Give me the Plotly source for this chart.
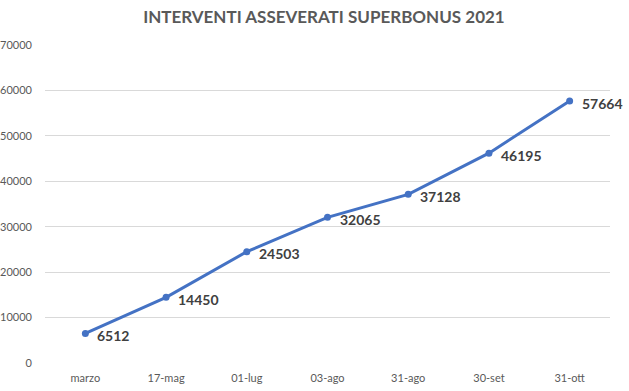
import plotly.graph_objects as go

categories = ["marzo", "17-mag", "01-lug", "03-ago", "31-ago", "30-set", "31-ott"]
values = [6512, 14450, 24503, 32065, 37128, 46195, 57664]
y_ticks = [0, 10000, 20000, 30000, 40000, 50000, 60000, 70000]

fig = go.Figure()
fig.add_trace(go.Scatter(
    x=categories, y=values,
    mode="lines+markers",
    line=dict(color="#4472C4", width=3),
    marker=dict(color="#4472C4", size=7),
    cliponaxis=False,
    hoverinfo="skip",
))

for c, v in zip(categories, values):
    fig.add_annotation(
        x=c, y=v, text=f"<b>{v}</b>", showarrow=False,
        xanchor="left", yanchor="middle", xshift=10, yshift=-2,
        font=dict(family="Lato", size=14, color="#404040"),
    )

fig.update_layout(
    width=629, height=391,
    paper_bgcolor="white", plot_bgcolor="white",
    margin=dict(l=45, r=19, t=45, b=28, autoexpand=False),
    showlegend=False,
    title=dict(
        text="<b>INTERVENTI ASSEVERATI SUPERBONUS 2021</b>",
        x=0.515, xanchor="center", y=0.9565, yanchor="middle",
        font=dict(family="Lato", size=17, color="#595959"),
    ),
    xaxis=dict(
        type="category", range=[-0.5, 6.5],
        showgrid=False, showline=False, zeroline=False, ticks="",
        tickfont=dict(family="Lato", size=11, color="#595959"),
        ticklabelstandoff=7, automargin=False,
    ),
    yaxis=dict(
        range=[0, 70000], tickvals=y_ticks, ticktext=[str(t) for t in y_ticks],
        showgrid=True, gridcolor="#d9d9d9", gridwidth=1,
        zeroline=False, showline=False, ticks="",
        tickfont=dict(family="Lato", size=11, color="#595959"),
        ticklabelstandoff=12, automargin=False,
    ),
)

fig.write_html(
    "out.html",
    config={"displayModeBar": False},
    post_script="document.body.style.margin='0';",
)
